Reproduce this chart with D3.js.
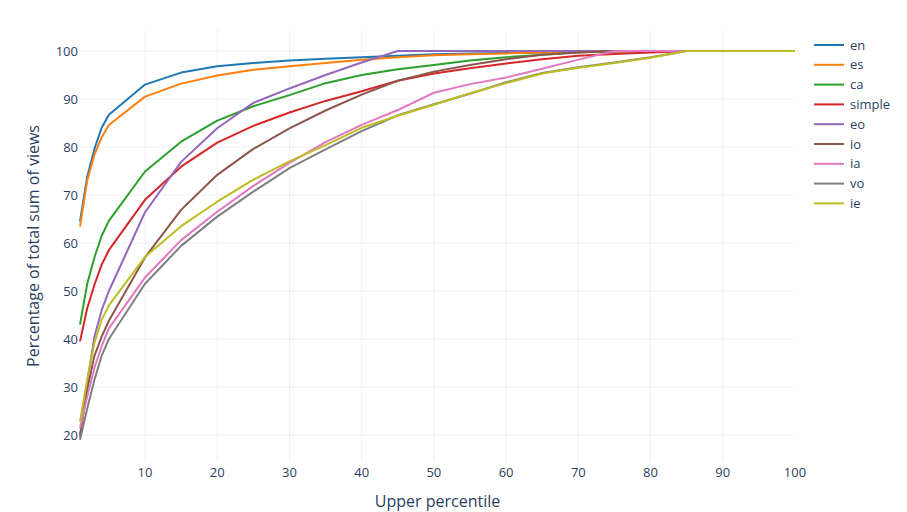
<!DOCTYPE html>
<html lang="en">
<head>
  <meta charset="UTF-8">
  <title>Percentage of total sum of views</title>
  <script src="https://d3js.org/d3.v7.min.js"></script>
  <style>
    body { margin: 0; background: #fff; }
    svg { font-family: "Open Sans", sans-serif; }
    .grid line { stroke: #ebf0f8; stroke-width: 1px; }
    .tick-label { fill: #2a3f5f; font-size: 13px; }
    .axis-title { fill: #2a3f5f; font-size: 16px; }
    .legend text { fill: #2a3f5f; font-size: 13px; }
    .series { fill: none; stroke-width: 2px; stroke-linejoin: round; }
  </style>
</head>
<body>
  <svg width="907" height="512"></svg>

  <script>
    // percentile steps
    const percentiles = [1, 2, 3, 4, 5, 10, 15, 20, 25, 30, 35, 40, 45, 50, 55, 60, 65, 70, 75, 80, 85, 90, 95, 100];

    const en     = [64.5, 73.8, 79.6, 84.0, 86.7, 93.0, 95.5, 96.8, 97.5, 98.0, 98.4, 98.7, 99.0, 99.3, 99.5, 99.6, 99.7, 99.8, 99.9, 99.95, 100, 100, 100, 100];
    const es     = [63.4, 73.0, 78.4, 82.0, 84.6, 90.5, 93.2, 94.9, 96.1, 96.8, 97.5, 98.2, 98.7, 99.1, 99.3, 99.5, 99.7, 99.8, 99.9, 99.95, 100, 100, 100, 100];
    const ca     = [43.0, 51.5, 57.0, 61.5, 64.6, 74.9, 81.1, 85.5, 88.5, 90.8, 93.3, 95.0, 96.2, 97.1, 98.0, 98.7, 99.2, 99.7, 100, 100, 100, 100, 100, 100];
    const simple = [39.5, 46.4, 51.3, 55.5, 58.5, 69.0, 75.9, 80.9, 84.4, 87.2, 89.6, 91.6, 93.8, 95.3, 96.4, 97.4, 98.3, 99.0, 99.4, 99.7, 100, 100, 100, 100];
    const eo     = [19.5, 31.0, 40.5, 46.0, 50.0, 66.4, 76.9, 83.9, 89.2, 92.2, 95.0, 97.6, 100, 100, 100, 100, 100, 100, 100, 100, 100, 100, 100, 100];
    const io     = [20.0, 29.5, 36.5, 40.5, 43.8, 57.0, 66.9, 74.2, 79.6, 83.9, 87.6, 90.9, 93.8, 95.7, 97.1, 98.3, 99.2, 99.7, 100, 100, 100, 100, 100, 100];
    const ia     = [21.4, 28.0, 34.0, 38.5, 42.2, 52.8, 60.6, 66.5, 71.9, 76.7, 81.0, 84.6, 87.7, 91.3, 93.1, 94.5, 96.3, 98.2, 100, 100, 100, 100, 100, 100];
    const vo     = [19.0, 25.5, 31.5, 36.5, 40.0, 51.5, 59.4, 65.5, 70.7, 75.6, 79.5, 83.3, 86.6, 88.9, 91.1, 93.5, 95.4, 96.6, 97.6, 98.7, 100, 100, 100, 100];
    const ie     = [22.8, 31.5, 39.2, 44.0, 47.0, 57.1, 63.5, 68.6, 73.2, 77.0, 80.4, 84.0, 86.5, 88.8, 91.2, 93.3, 95.3, 96.5, 97.5, 98.6, 100, 100, 100, 100];

    const seriesNames = ["en", "es", "ca", "simple", "eo", "io", "ia", "vo", "ie"];
    const seriesValues = [en, es, ca, simple, eo, io, ia, vo, ie];
    const colors = ["#1f77b4", "#ff7f0e", "#2ca02c", "#d62728", "#9467bd", "#8c564b", "#e377c2", "#7f7f7f", "#bcbd22"];

    const xTicks = [10, 20, 30, 40, 50, 60, 70, 80, 90, 100];
    const yTicks = [20, 30, 40, 50, 60, 70, 80, 90, 100];

    const plot = { left: 80, right: 795, top: 30, bottom: 462 };

    const svg = d3.select("svg");

    const x = d3.scaleLinear()
        .domain([1, 100])
        .range([plot.left, plot.right]);

    const y = d3.scaleLinear()
        .domain([14.375, 104.375])
        .range([plot.bottom, plot.top]);

    // Grid lines
    const grid = svg.append("g").attr("class", "grid");

    grid.selectAll("line.h")
        .data(yTicks)
        .enter().append("line")
        .attr("class", "h")
        .attr("x1", plot.left).attr("x2", plot.right)
        .attr("y1", d => y(d)).attr("y2", d => y(d));

    grid.selectAll("line.v")
        .data(xTicks.filter(d => d < 100))
        .enter().append("line")
        .attr("class", "v")
        .attr("x1", d => x(d)).attr("x2", d => x(d))
        .attr("y1", plot.top).attr("y2", plot.bottom);

    // Tick labels
    svg.append("g")
        .selectAll("text")
        .data(yTicks)
        .enter().append("text")
        .attr("class", "tick-label")
        .attr("x", plot.left - 2)
        .attr("y", d => y(d))
        .attr("dy", "0.35em")
        .attr("text-anchor", "end")
        .text(d => d);

    svg.append("g")
        .selectAll("text")
        .data(xTicks)
        .enter().append("text")
        .attr("class", "tick-label")
        .attr("x", d => x(d))
        .attr("y", plot.bottom + 10)
        .attr("dy", "0.35em")
        .attr("text-anchor", "middle")
        .text(d => d);

    // Axis titles
    svg.append("text")
        .attr("class", "axis-title")
        .attr("x", (plot.left + plot.right) / 2)
        .attr("y", 501)
        .attr("dy", "0.35em")
        .attr("text-anchor", "middle")
        .text("Upper percentile");

    svg.append("text")
        .attr("class", "axis-title")
        .attr("transform", `translate(33,${(plot.top + plot.bottom) / 2}) rotate(-90)`)
        .attr("dy", "0.35em")
        .attr("text-anchor", "middle")
        .text("Percentage of total sum of views");

    // Lines
    const line = d3.line()
        .x((d, i) => x(percentiles[i]))
        .y(d => y(d));

    svg.append("g")
        .selectAll("path")
        .data(seriesValues)
        .enter().append("path")
        .attr("class", "series")
        .attr("stroke", (d, i) => colors[i])
        .attr("d", line);

    // Legend
    const legend = svg.append("g")
        .attr("class", "legend")
        .selectAll("g")
        .data(seriesNames)
        .enter().append("g")
        .attr("transform", (d, i) => `translate(814,${45 + i * 19.8})`);

    legend.append("line")
        .attr("x1", 0).attr("x2", 30)
        .attr("y1", 0).attr("y2", 0)
        .attr("stroke", (d, i) => colors[i])
        .attr("stroke-width", 2);

    legend.append("text")
        .attr("x", 36)
        .attr("dy", "0.35em")
        .text(d => d);
  </script>
</body>
</html>
